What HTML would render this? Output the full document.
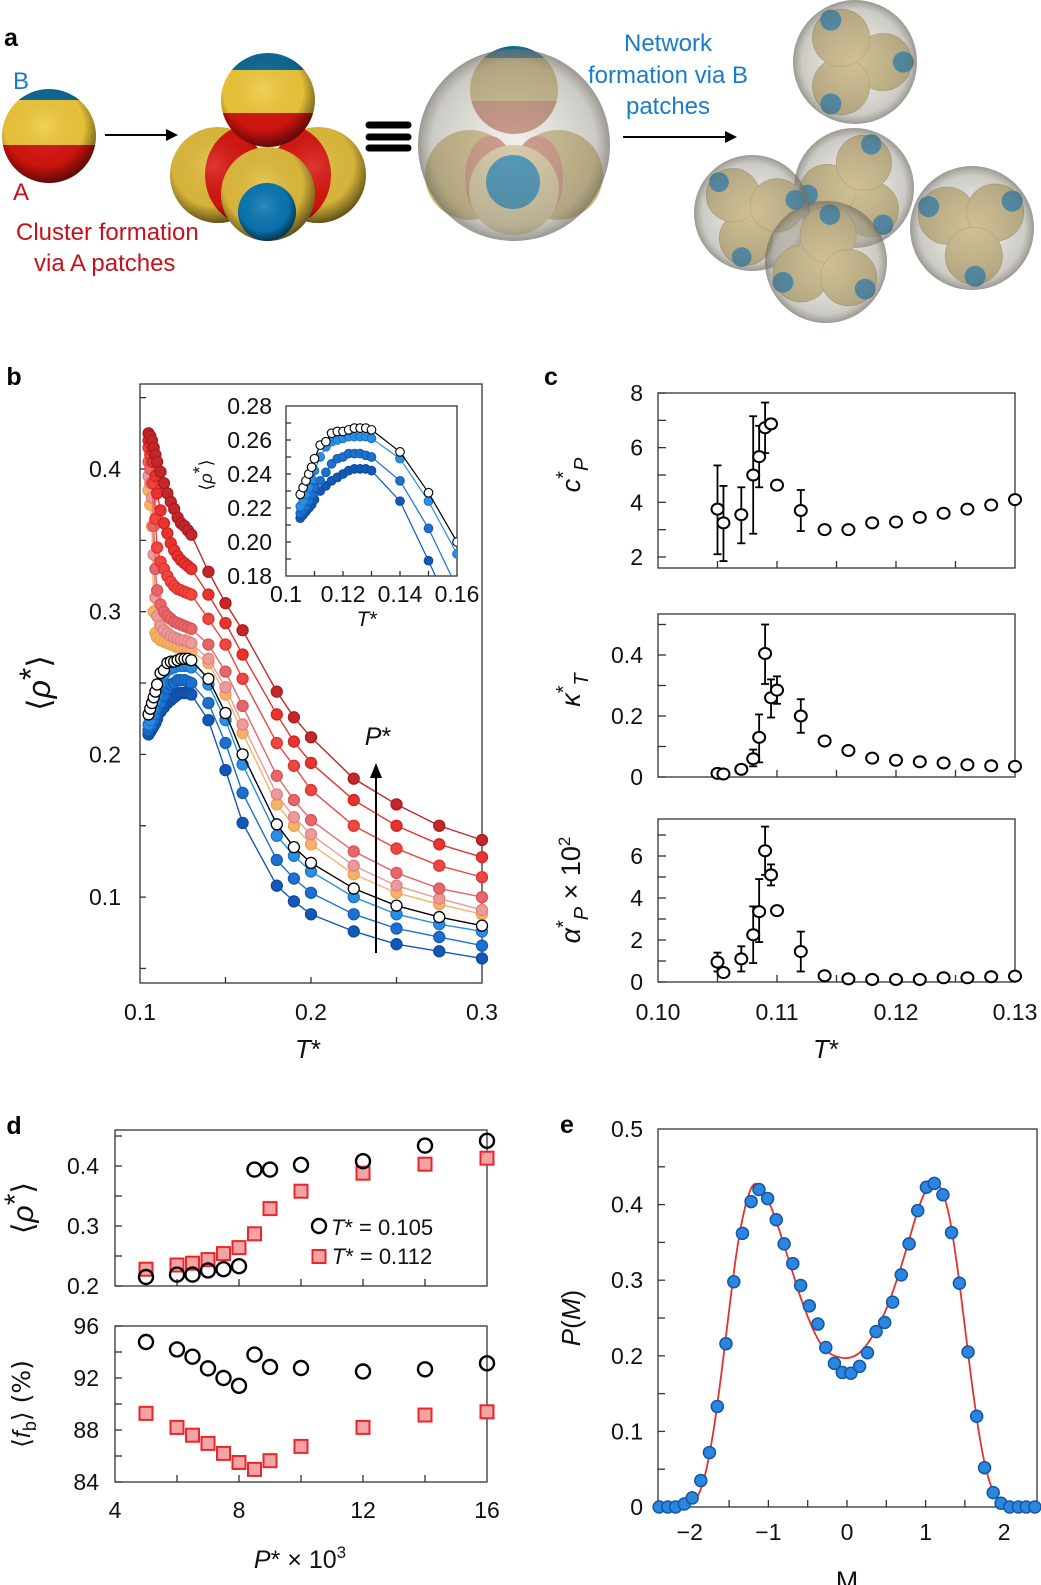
<!DOCTYPE html>
<html><head><meta charset="utf-8"><title>Figure</title>
<style>
html,body{margin:0;padding:0;background:#fff}
svg{display:block;font-family:"Liberation Sans",sans-serif}
.tk{font-size:23px;fill:#111}
.lb{font-size:26px;fill:#111}
.pl{font-size:25px;font-weight:bold;fill:#000}
</style></head>
<body>
<svg id="fig" width="1041" height="1585" viewBox="0 0 1041 1585" xmlns="http://www.w3.org/2000/svg">
<defs>
<radialGradient id="shade" cx="0.45" cy="0.4" r="0.6">
<stop offset="0" stop-color="#fff" stop-opacity="0.15"/>
<stop offset="0.7" stop-color="#000" stop-opacity="0.05"/>
<stop offset="1" stop-color="#000" stop-opacity="0.55"/>
</radialGradient>
<radialGradient id="glass" cx="0.5" cy="0.5" r="0.5">
<stop offset="0" stop-color="#d8d4c4" stop-opacity="0.35"/>
<stop offset="0.85" stop-color="#9a968a" stop-opacity="0.5"/>
<stop offset="1" stop-color="#6e6b62" stop-opacity="0.7"/>
</radialGradient>
<clipPath id="c1"><circle cx="49" cy="136" r="47"/></clipPath>
<clipPath id="c2"><circle cx="268" cy="100" r="47"/></clipPath>
<clipPath id="c3"><circle cx="218" cy="175" r="48"/></clipPath>
<clipPath id="c4"><circle cx="318" cy="175" r="48"/></clipPath>
<clipPath id="c5"><circle cx="514" cy="90" r="44"/></clipPath>
</defs>

<!-- Panel a -->
<g>
<text class="pl" x="4" y="46">a</text>
<g>
<g clip-path="url(#c1)">
<rect x="0" y="85" width="100" height="16" fill="#0f6a95"/>
<rect x="0" y="100" width="100" height="45" fill="#f0c93a"/>
<rect x="0" y="145" width="100" height="45" fill="#d8150f"/>
</g>
<circle cx="49" cy="136" r="47" fill="url(#shade)"/>
</g>
<text x="13" y="89" font-size="24" fill="#1a7cc8">B</text>
<text x="13" y="200" font-size="24" fill="#c8101a">A</text>
<g><line x1="105" y1="135" x2="170" y2="135" stroke="#000" stroke-width="2"/><polygon points="178,135 166,129 166,141" fill="#000"/></g>
<text x="16" y="240" font-size="24" fill="#c8101a">Cluster formation</text>
<text x="34" y="271" font-size="24" fill="#c8101a">via A patches</text>
<g>
<g clip-path="url(#c3)"><rect x="160" y="120" width="120" height="120" fill="#e2bd3c"/><ellipse cx="250" cy="175" rx="45" ry="50" fill="#d8150f"/></g>
<circle cx="218" cy="175" r="48" fill="url(#shade)"/>
<g clip-path="url(#c4)"><rect x="260" y="120" width="120" height="120" fill="#e2bd3c"/><ellipse cx="286" cy="175" rx="45" ry="50" fill="#d8150f"/></g>
<circle cx="318" cy="175" r="48" fill="url(#shade)"/>
<g clip-path="url(#c2)"><rect x="215" y="50" width="110" height="21" fill="#0f6a95"/><rect x="215" y="70" width="110" height="43" fill="#f0c93a"/><rect x="215" y="113" width="110" height="40" fill="#d8150f"/></g>
<circle cx="268" cy="100" r="47" fill="url(#shade)"/>
<circle cx="268" cy="194" r="47" fill="#e2bd3c"/>
<circle cx="268" cy="194" r="47" fill="url(#shade)"/>
<circle cx="267" cy="212" r="29" fill="#0a78b4"/>
<circle cx="267" cy="212" r="29" fill="url(#shade)"/>
</g>
<g stroke="#000" stroke-width="7" stroke-linecap="round"><line x1="369" y1="125" x2="408" y2="125"/><line x1="369" y1="137" x2="408" y2="137"/><line x1="369" y1="148" x2="408" y2="148"/></g>
<g>
<circle cx="470" cy="175" r="45" fill="#c9b578"/><ellipse cx="490" cy="178" rx="25" ry="42" fill="#c98070"/>
<circle cx="558" cy="175" r="45" fill="#c9b578"/><ellipse cx="538" cy="178" rx="25" ry="42" fill="#c98070"/>
<g clip-path="url(#c5)"><rect x="468" y="44" width="95" height="14" fill="#0f6a95"/><rect x="468" y="58" width="95" height="43" fill="#c9b578"/><rect x="468" y="101" width="95" height="40" fill="#c07a6a"/></g>
<circle cx="514" cy="190" r="45" fill="#d6c79a"/>
<circle cx="513" cy="182" r="27" fill="#0a78b4"/>
<circle cx="514" cy="145" r="96" fill="url(#glass)"/>
</g>
<text x="668" y="51" font-size="24" fill="#1a7cc8" text-anchor="middle">Network</text>
<text x="668" y="83" font-size="24" fill="#1a7cc8" text-anchor="middle">formation via B</text>
<text x="668" y="114" font-size="24" fill="#1a7cc8" text-anchor="middle">patches</text>
<g><line x1="623" y1="137" x2="728" y2="137" stroke="#000" stroke-width="2"/><polygon points="737,137 725,131 725,143" fill="#000"/></g>
<g id="network"></g>
</g>

<g id="pb"></g>
<g id="pc"></g>
<g id="pd"></g>
<g id="pe"></g>
</svg>

<script>
// ---------- Panel b data ----------
const bT = [0.105,0.106,0.107,0.108,0.109,0.110,0.112,0.114,0.116,0.118,0.120,0.122,0.124,0.126,0.128,0.130,0.14,0.15,0.16,0.18,0.19,0.20,0.225,0.25,0.275,0.30];
const bRed1 = [.425,.423,.42,.415,.41,.405,.398,.39,.383,.377,.372,.366,.362,.36,.357,.354,.328,.306,.287,.244,.226,.212,.183,.165,.150,.140];
const bRed2 = [.42,.418,.413,.405,.395,.383,.371,.362,.355,.348,.343,.339,.336,.334,.332,.330,.312,.292,.270,.228,.209,.194,.168,.150,.137,.128];
const bRed3 = [.415,.41,.405,.39,.365,.345,.335,.33,.325,.321,.318,.316,.315,.314,.313,.312,.295,.277,.253,.208,.192,.175,.150,.134,.122,.114];
const bRed4 = [.405,.4,.39,.36,.33,.315,.305,.3,.297,.295,.293,.292,.291,.29,.289,.288,.277,.258,.234,.185,.168,.154,.132,.117,.106,.100];
const bRed5 = [.395,.39,.38,.34,.31,.297,.29,.287,.285,.283,.282,.281,.28,.28,.279,.278,.267,.247,.221,.172,.156,.144,.122,.108,.099,.091];
const bOrange = [.385,.375,.36,.3,.285,.282,.28,.279,.278,.277,.276,.275,.274,.274,.273,.272,.264,.242,.215,.165,.150,.137,.116,.103,.095,.088];
const bBlack = [.228,.232,.236,.240,.244,.249,.257,.259,.264,.265,.265,.266,.267,.267,.267,.266,.253,.229,.200,.151,.135,.124,.106,.094,.086,.080];
const bBlue1 = [.221,.224,.228,.232,.237,.242,.250,.256,.259,.260,.261,.262,.262,.262,.262,.261,.249,.224,.193,.143,.129,.118,.100,.088,.081,.076];
const bBlue2 = [.217,.219,.221,.224,.228,.232,.236,.241,.246,.249,.250,.252,.252,.252,.251,.250,.236,.208,.173,.126,.113,.103,.088,.078,.072,.066];
const bBlue3 = [.214,.216,.218,.220,.222,.225,.230,.233,.236,.238,.240,.242,.243,.243,.243,.242,.224,.189,.152,.108,.097,.088,.076,.067,.062,.057];
const bXTicks = ["0.1","0.2","0.3"];
const bYTicks = ["0.1","0.2","0.3","0.4"];
const insetXTicks = ["0.1","0.12","0.14","0.16"];
const insetYTicks = ["0.18","0.20","0.22","0.24","0.26","0.28"];

// ---------- Panel c data ----------
const cT = [0.105,0.1055,0.107,0.108,0.1085,0.109,0.1095,0.110,0.112,0.114,0.116,0.118,0.120,0.122,0.124,0.126,0.128,0.130];
const cpVal = [3.75,3.25,3.55,5.0,5.67,6.73,6.87,4.63,3.7,3.0,3.0,3.25,3.28,3.45,3.6,3.75,3.9,4.1];
const cpHi = [5.35,4.6,4.55,7.15,6.8,7.65,null,4.8,4.45,null,null,null,null,null,null,null,null,null];
const cpLo = [2.1,1.85,2.5,2.85,4.55,5.8,null,4.45,2.95,null,null,null,null,null,null,null,null,null];
const kVal = [0.012,0.01,0.025,0.06,0.13,0.405,0.26,0.285,0.2,0.118,0.087,0.062,0.055,0.05,0.046,0.04,0.037,0.035];
const kHi = [null,null,null,0.09,0.205,0.5,0.32,0.33,0.255,null,null,null,null,null,null,null,null,null];
const kLo = [null,null,null,0.035,0.048,0.305,0.195,0.24,0.145,null,null,null,null,null,null,null,null,null];
const aVal = [0.95,0.45,1.1,2.25,3.35,6.25,5.1,3.4,1.45,0.3,0.15,0.12,0.12,0.12,0.2,0.2,0.25,0.28];
const aHi = [1.4,null,1.7,3.6,4.9,7.4,5.6,3.6,2.4,null,null,null,null,null,null,null,null,null];
const aLo = [0.5,null,0.5,0.9,1.9,5.1,4.6,3.2,0.5,null,null,null,null,null,null,null,null,null];
const cXTicks = ["0.10","0.11","0.12","0.13"];
const cpTicks = ["2","4","6","8"];
const kTicks = ["0","0.2","0.4"];
const aTicks = ["0","2","4","6"];

// ---------- Panel d data ----------
const dP = [5,6,6.5,7,7.5,8,8.5,9,10,12,14,16];
const dRho105 = [0.215,0.219,0.219,0.226,0.228,0.233,0.394,0.394,0.402,0.408,0.434,0.442];
const dRho112 = [0.228,0.235,0.238,0.244,0.254,0.264,0.287,0.329,0.358,0.388,0.403,0.413];
const dFb105 = [94.77,94.2,93.64,92.74,92.0,91.4,93.8,92.85,92.77,92.5,92.67,93.13];
const dFb112 = [89.28,88.2,87.6,86.97,86.2,85.5,84.97,85.64,86.74,88.2,89.15,89.4];
const dXTicks = ["4","8","12","16"];
const dRhoTicks = ["0.2","0.3","0.4"];
const dFbTicks = ["84","88","92","96"];

// ---------- Panel e data ----------
const eM = [-2.39,-2.28,-2.18,-2.07,-1.97,-1.86,-1.75,-1.65,-1.54,-1.44,-1.33,-1.22,-1.12,-1.01,-0.90,-0.80,-0.69,-0.59,-0.48,-0.37,-0.27,-0.16,-0.06,0.05,0.16,0.26,0.37,0.48,0.58,0.69,0.79,0.90,1.01,1.11,1.22,1.33,1.43,1.54,1.65,1.75,1.86,1.96,2.07,2.18,2.28,2.39];
const eP = [0,0,0,0.004,0.012,0.035,0.072,0.133,0.216,0.298,0.362,0.404,0.42,0.408,0.38,0.348,0.322,0.293,0.266,0.242,0.211,0.19,0.178,0.177,0.186,0.204,0.232,0.244,0.271,0.307,0.348,0.392,0.423,0.428,0.413,0.363,0.296,0.205,0.12,0.052,0.019,0.005,0,0,0,0];
const fitM = [-2.4,-2.3,-2.2,-2.1,-2.0,-1.9,-1.8,-1.7,-1.6,-1.5,-1.4,-1.3,-1.2,-1.1,-1.0,-0.9,-0.8,-0.7,-0.6,-0.5,-0.4,-0.3,-0.2,-0.1,0,0.1,0.2,0.3,0.4,0.5,0.6,0.7,0.8,0.9,1.0,1.1,1.2,1.3,1.4,1.5,1.6,1.7,1.8,1.9,2.0,2.1,2.2,2.3,2.4];
const fitP = [0,0,0,0.001,0.004,0.014,0.045,0.1,0.175,0.26,0.34,0.395,0.425,0.423,0.405,0.378,0.346,0.313,0.28,0.252,0.228,0.211,0.202,0.198,0.197,0.2,0.208,0.222,0.24,0.262,0.29,0.322,0.357,0.392,0.418,0.43,0.42,0.385,0.32,0.238,0.155,0.085,0.038,0.013,0.003,0,0,0,0];
const eXTicks = ["−2","−1","0","1","2"];
const eYTicks = ["0","0.1","0.2","0.3","0.4","0.5"];

// ---------- helpers ----------
const NS = "http://www.w3.org/2000/svg";
function mk(tag, attrs, parent){
  const e = document.createElementNS(NS, tag);
  for (const k in attrs) e.setAttribute(k, attrs[k]);
  parent.appendChild(e);
  return e;
}
function txt(parent, x, y, s, cls, anchor){
  const t = mk("text", {x:x, y:y, class:cls, "text-anchor":anchor||"middle", "dominant-baseline":"central"}, parent);
  t.textContent = s;
  return t;
}
function frame(parent, x0, y0, x1, y1){
  const r = mk("rect", {x:x0, y:y0, width:x1-x0, height:y1-y0, fill:"none", stroke:"#333", "stroke-width":1.3}, parent);
  
  
}
function ytick(parent, xAxis, y, len){
  const l = mk("line", {x1:xAxis, y1:y, x2:xAxis+len, y2:y, stroke:"#333", "stroke-width":1.3}, parent);
  
  
}
function xtick(parent, x, yAxis, len){
  const l = mk("line", {x1:x, y1:yAxis, x2:x, y2:yAxis-len, stroke:"#333", "stroke-width":1.3}, parent);
  
  
}
function richText(parent, x, y, parts, size, rotate){
  const t = mk("text", {x:x, y:y, "font-size":size, "text-anchor":"middle", fill:"#111"}, parent);
  if (rotate) t.setAttribute("transform", "rotate(-90 "+x+" "+y+")");
  parts.forEach(p=>{
    const s = mk("tspan", {}, t);
    if (p.i) s.setAttribute("font-style","italic");
    if (p.dy) s.setAttribute("dy", p.dy);
    if (p.fs) s.setAttribute("font-size", p.fs);
    if (p.f) s.setAttribute("font-family", p.f);
    s.textContent = p.t;
  });
  return t;
}

// ---------- network cluster decoration ----------
(function(){
  const g = document.getElementById("network");
  const clusters = [[855,62,62,0],[854,188,60,1],[752,213,58,2],[826,262,61,3],[972,228,62,4]];
  clusters.forEach(c=>{
    const cx=c[0], cy=c[1], r=c[2], k=c[3];
    const grp = mk("g", {}, g);
    
    
    mk("circle", {cx:cx, cy:cy, r:r*0.45, fill:"#c98070"}, grp);
    for (let i=0;i<3;i++){
      const a = (k*0.9 + i*2.094);
      const sx = cx + Math.cos(a)*r*0.45, sy = cy + Math.sin(a)*r*0.45;
      mk("circle", {cx:sx, cy:sy, r:r*0.46, fill:"#c9b578", stroke:"#a89860", "stroke-width":0.8}, grp);
      mk("circle", {cx:cx + Math.cos(a)*r*0.78, cy:cy + Math.sin(a)*r*0.78, r:r*0.17, fill:"#0a6fa8"}, grp);
    }
    mk("circle", {cx:cx, cy:cy, r:r, fill:"url(#glass)"}, grp);
  });
})();

// ---------- Panel b ----------
(function(){
  const g = document.getElementById("pb");
  const L=140, R=482, T=384, B=983;
  const X = t => L + (t-0.1)/0.2*(R-L);
  const Y = v => 469 - (v-0.4)*1427;
  const lab = txt(g, 14, 377, "b", "pl", "middle");
  
  
  frame(g, L, T, R, B);
  [0.05,0.1,0.15,0.2,0.25,0.3,0.35,0.4,0.45].forEach(v=>ytick(g, L, Y(v), 6));
  [0.15,0.2,0.25].forEach(t=>xtick(g, X(t), B, 6));
  bYTicks.forEach(s=>{
    const t = txt(g, 121, Y(parseFloat(s)), s, "tk", "end");
    
    
  });
  bXTicks.forEach(s=>{
    const t = txt(g, X(parseFloat(s)), 1012, s, "tk", "middle");
    
    
  });
  const xl = richText(g, 308, 1058, [{t:"T",i:1},{t:"*"}], 26);
  
  
  const yl = richText(g, 50, 683, [{t:"⟨",f:"DejaVu Sans"},{t:"ρ",i:1},{t:"*",dy:-8},{t:"⟩",dy:8,f:"DejaVu Sans"}], 32, true);
  
  

  const series = [
    {d:bBlue3, c:"#1258b8", s:"#0d4a9c", n:"series-blue-3"},
    {d:bBlue2, c:"#1b70d0", s:"#135cb0", n:"series-blue-2"},
    {d:bBlue1, c:"#2a8ee6", s:"#1d74c4", n:"series-blue-1"},
    {d:bOrange, c:"#f7b26a", s:"#eea050", n:"series-orange"},
    {d:bRed5, c:"#ec9a9a", s:"#e08080", n:"series-red-5"},
    {d:bRed4, c:"#e6666a", s:"#d85458", n:"series-red-4"},
    {d:bRed3, c:"#ef4640", s:"#e0302c", n:"series-red-3"},
    {d:bRed2, c:"#e8332e", s:"#cf2420", n:"series-red-2"},
    {d:bRed1, c:"#c4262a", s:"#a81c20", n:"series-red-1"},
    {d:bBlack, c:"#ffffff", s:"#000000", n:"series-black", line:"#000"}
  ];
  series.forEach(sr=>{
    const grp = mk("g", {}, g);
    
    
    const pts = bT.map((t,i)=>X(t)+","+Y(sr.d[i])).join(" ");
    const pl = mk("polyline", {points:pts, fill:"none", stroke:sr.line||sr.c, "stroke-width":1.4}, grp);
    
    
    bT.forEach((t,i)=>{
      const c = mk("circle", {cx:X(t), cy:Y(sr.d[i]), r:5.5, fill:sr.c, stroke:sr.s, "stroke-width":1.3}, grp);
      
      
    });
  });

  // P* arrow
  const ar = mk("g", {}, g);
  
  
  mk("line", {x1:376, y1:953, x2:376, y2:775, stroke:"#000", "stroke-width":2}, ar);
  mk("polygon", {points:"376,763 370,778 382,778", fill:"#000"}, ar);
  const pl2 = richText(g, 378, 745, [{t:"P",i:1},{t:"*"}], 25);
  
  

  // inset
  const iL=286, iR=457, iT=406, iB=576;
  const IX = t => iL + (t-0.1)/0.06*(iR-iL);
  const IY = v => iT + (0.28-v)/0.1*(iB-iT);
  const ig = mk("g", {}, g);
  
  
  mk("rect", {x:iL, y:iT, width:iR-iL, height:iB-iT, fill:"#fff"}, ig);
  mk("clipPath", {id:"insetclip"}, ig);
  mk("rect", {x:iL, y:iT, width:iR-iL, height:iB-iT}, document.getElementById("insetclip"));
  frame(ig, iL, iT, iR, iB);
  [0.19,0.2,0.21,0.22,0.23,0.24,0.25,0.26,0.27].forEach(v=>ytick(ig, iL, IY(v), 5));
  [0.11,0.12,0.13,0.14,0.15].forEach(t=>xtick(ig, IX(t), iB, 5));
  insetYTicks.forEach(s=>{
    const t = txt(ig, 272, IY(parseFloat(s)), s, "tk", "end");
    t.setAttribute("font-size","19");
    
    
  });
  insetXTicks.forEach(s=>{
    const t = txt(ig, IX(parseFloat(s)), 594, s, "tk", "middle");
    t.setAttribute("font-size","19");
    
    
  });
  const ixl = richText(ig, 367, 626, [{t:"T",i:1},{t:"*"}], 21);
  
  
  const iyl = richText(ig, 212, 475, [{t:"⟨",f:"DejaVu Sans"},{t:"ρ",i:1},{t:"*",dy:-6},{t:"⟩",dy:6,f:"DejaVu Sans"}], 18, true);
  
  
  const inner = mk("g", {"clip-path":"url(#insetclip)"}, ig);
  series.filter(s=>s.n.indexOf("blue")>=0 || s.n==="series-black").forEach(sr=>{
    const grp = mk("g", {}, inner);
    
    
    const pts = bT.map((t,i)=>IX(t)+","+IY(sr.d[i])).join(" ");
    mk("polyline", {points:pts, fill:"none", stroke:sr.line||sr.c, "stroke-width":1.2}, grp);
    bT.forEach((t,i)=>{
      const c = mk("circle", {cx:IX(t), cy:IY(sr.d[i]), r:4.3, fill:sr.c, stroke:sr.s, "stroke-width":1.1}, grp);
      
      
    });
  });
})();

// ---------- Panel c ----------
(function(){
  const g = document.getElementById("pc");
  const L=658, R=1015;
  const X = t => L + (t-0.1)/0.03*(R-L);
  const lab = txt(g, 551, 377, "c", "pl", "middle");
  
  
  const subs = [
    {T:393, B:568, Y:v=>393+(8-v)*27.33, vals:cpVal, hi:cpHi, lo:cpLo, ticks:cpTicks, minor:[3,5,7], name:"heat-capacity-plot",
     title:[{t:"c",i:1},{t:"*",dy:-10,fs:20},{t:"P",i:1,dy:18,dx:-8,fs:20}], ty:475},
    {T:614, B:777, Y:v=>777-v*305, vals:kVal, hi:kHi, lo:kLo, ticks:kTicks, minor:[0.1,0.3,0.5], name:"compressibility-plot",
     title:[{t:"κ",i:1},{t:"*",dy:-10,fs:20},{t:"T",i:1,dy:18,fs:20}], ty:690},
    {T:819, B:982, Y:v=>982-v*21, vals:aVal, hi:aHi, lo:aLo, ticks:aTicks, minor:[1,3,5,7], name:"thermal-expansion-plot",
     title:[{t:"α",i:1},{t:"*",dy:-10,fs:20},{t:"P",i:1,dy:18,fs:20},{t:" × 10",dy:-8},{t:"2",dy:-10,fs:17}], ty:890}
  ];
  subs.forEach(sp=>{
    const sg = mk("g", {}, g);
    
    
    frame(sg, L, sp.T, R, sp.B);
    sp.ticks.forEach(s=>{ ytick(sg, L, sp.Y(parseFloat(s)), 8);
      const t = txt(sg, 643, sp.Y(parseFloat(s)), s, "tk", "end");
      
      
    });
    sp.minor.forEach(v=>ytick(sg, L, sp.Y(v), 8));
    [0.105,0.11,0.115,0.12,0.125].forEach(t=>xtick(sg, X(t), sp.B, 7));
    const yt = richText(sg, 580, sp.ty, sp.title, 27, true);
    
    
    cT.forEach((t,i)=>{
      if (sp.hi[i]!==null){
        const eb = mk("g", {stroke:"#000", "stroke-width":1.8}, sg);
        
        
        mk("line", {x1:X(t), y1:sp.Y(sp.hi[i]), x2:X(t), y2:sp.Y(sp.lo[i])}, eb);
        mk("line", {x1:X(t)-4, y1:sp.Y(sp.hi[i]), x2:X(t)+4, y2:sp.Y(sp.hi[i])}, eb);
        mk("line", {x1:X(t)-4, y1:sp.Y(sp.lo[i]), x2:X(t)+4, y2:sp.Y(sp.lo[i])}, eb);
      }
    });
    cT.forEach((t,i)=>{
      const c = mk("ellipse", {cx:X(t), cy:sp.Y(sp.vals[i]), rx:6, ry:5.5, fill:"#fff", stroke:"#000", "stroke-width":2}, sg);
      
      
    });
  });
  cXTicks.forEach(s=>{
    const t = txt(g, X(parseFloat(s)), 1012, s, "tk", "middle");
    
    
  });
  const xl = richText(g, 826, 1058, [{t:"T",i:1},{t:"*"}], 26);
  
  
})();

// ---------- Panel d ----------
(function(){
  const g = document.getElementById("pd");
  const L=115, R=487;
  const X = p => L + (p-4)*31;
  const lab = txt(g, 14, 1126, "d", "pl", "middle");
  
  
  const subs = [
    {T:1130, B:1286, Y:v=>1286-(v-0.2)*600, a:dRho105, b:dRho112, ticks:dRhoTicks, minor:[0.25,0.35,0.45], name:"density-vs-pressure-plot"},
    {T:1326, B:1482, Y:v=>1482-(v-84)*13, a:dFb105, b:dFb112, ticks:dFbTicks, minor:[86,90,94], name:"bond-fraction-vs-pressure-plot"}
  ];
  subs.forEach(sp=>{
    const sg = mk("g", {}, g);
    
    
    frame(sg, L, sp.T, R, sp.B);
    sp.ticks.forEach(s=>{ ytick(sg, L, sp.Y(parseFloat(s)), 7);
      const t = txt(sg, 99, sp.Y(parseFloat(s)), s, "tk", "end");
      
      
    });
    sp.minor.forEach(v=>ytick(sg, L, sp.Y(v), 7));
    [6,8,10,12,14].forEach(p=>xtick(sg, X(p), sp.B, 7));
    dP.forEach((p,i)=>{
      const q = mk("rect", {x:X(p)-6.5, y:sp.Y(sp.b[i])-6.5, width:13, height:13, fill:"#f5a3a3", stroke:"#e8262b", "stroke-width":2}, sg);
      
      
    });
    dP.forEach((p,i)=>{
      const c = mk("circle", {cx:X(p), cy:sp.Y(sp.a[i]), r:7, fill:"none", stroke:"#000", "stroke-width":2.4}, sg);
      
      
    });
  });
  dXTicks.forEach(s=>{
    const t = txt(g, X(parseFloat(s)), 1510, s, "tk", "middle");
    
    
  });
  const xl = richText(g, 300, 1568, [{t:"P",i:1},{t:"* × 10"},{t:"3",dy:-10,fs:17}], 25);
  
  
  const y1 = richText(g, 33, 1208, [{t:"⟨",f:"DejaVu Sans"},{t:"ρ",i:1},{t:"*",dy:-8},{t:"⟩",dy:8,f:"DejaVu Sans"}], 30, true);
  
  
  const y2 = richText(g, 30, 1404, [{t:"⟨",f:"DejaVu Sans"},{t:"f",i:1},{t:"b",dy:6,fs:18},{t:"⟩ (%)",dy:-6,f:"DejaVu Sans"}], 25, true);
  
  
  // legend
  const lg = mk("g", {}, g);
  
  
  const lc = mk("circle", {cx:319, cy:1226, r:7, fill:"none", stroke:"#000", "stroke-width":2.4}, lg);
  
  
  const l1 = richText(lg, 382, 1235, [{t:"T",i:1},{t:"* = 0.105"}], 22);
  
  
  const lq = mk("rect", {x:312.5, y:1250, width:13, height:13, fill:"#f5a3a3", stroke:"#e8262b", "stroke-width":2}, lg);
  
  
  const l2 = richText(lg, 382, 1264, [{t:"T",i:1},{t:"* = 0.112"}], 22);
  
  
})();

// ---------- Panel e ----------
(function(){
  const g = document.getElementById("pe");
  const L=658, R=1037, T=1129, B=1507;
  const X = m => 847 + m*78.6;
  const Y = v => B - v*756;
  const lab = txt(g, 567, 1125, "e", "pl", "middle");
  
  
  frame(g, L, T, R, B);
  [0.05,0.1,0.15,0.2,0.25,0.3,0.35,0.4,0.45].forEach(v=>ytick(g, L, Y(v), 7));
  [-2,-1.5,-1,-0.5,0,0.5,1,1.5,2].forEach(m=>xtick(g, X(m), B, 7));
  eYTicks.forEach(s=>{
    const t = txt(g, 643, Y(parseFloat(s)), s, "tk", "end");
    
    
  });
  eXTicks.forEach(s=>{
    const t = txt(g, X(parseFloat(s.replace("−","-"))), 1532, s, "tk", "middle");
    
    
  });
  const xl = richText(g, 847, 1590, [{t:"M"}], 27);
  
  
  const yl = richText(g, 580, 1318, [{t:"P",i:1},{t:"("},{t:"M",i:1},{t:")"}], 26, true);
  
  
  // smooth fit curve (Catmull-Rom through fit points)
  const px = fitM.map(X), py = fitP.map(Y);
  let d = "M"+px[0]+","+py[0];
  for (let i=0;i<px.length-1;i++){
    const x0=px[Math.max(i-1,0)], y0=py[Math.max(i-1,0)], x3=px[Math.min(i+2,px.length-1)], y3=py[Math.min(i+2,px.length-1)];
    const c1x=px[i]+(px[i+1]-x0)/6, c1y=py[i]+(py[i+1]-y0)/6, c2x=px[i+1]-(x3-px[i])/6, c2y=py[i+1]-(y3-py[i])/6;
    d += " C"+c1x+","+c1y+" "+c2x+","+c2y+" "+px[i+1]+","+py[i+1];
  }
  const fit = mk("path", {d:d, fill:"none", stroke:"#e8302a", "stroke-width":1.8}, g);
  
  
  eM.forEach((m,i)=>{
    const c = mk("circle", {cx:X(m), cy:Y(eP[i]), r:6, fill:"#2a86de", stroke:"#1456a8", "stroke-width":1.5}, g);
    
    
  });
})();
</script>
</body></html>
